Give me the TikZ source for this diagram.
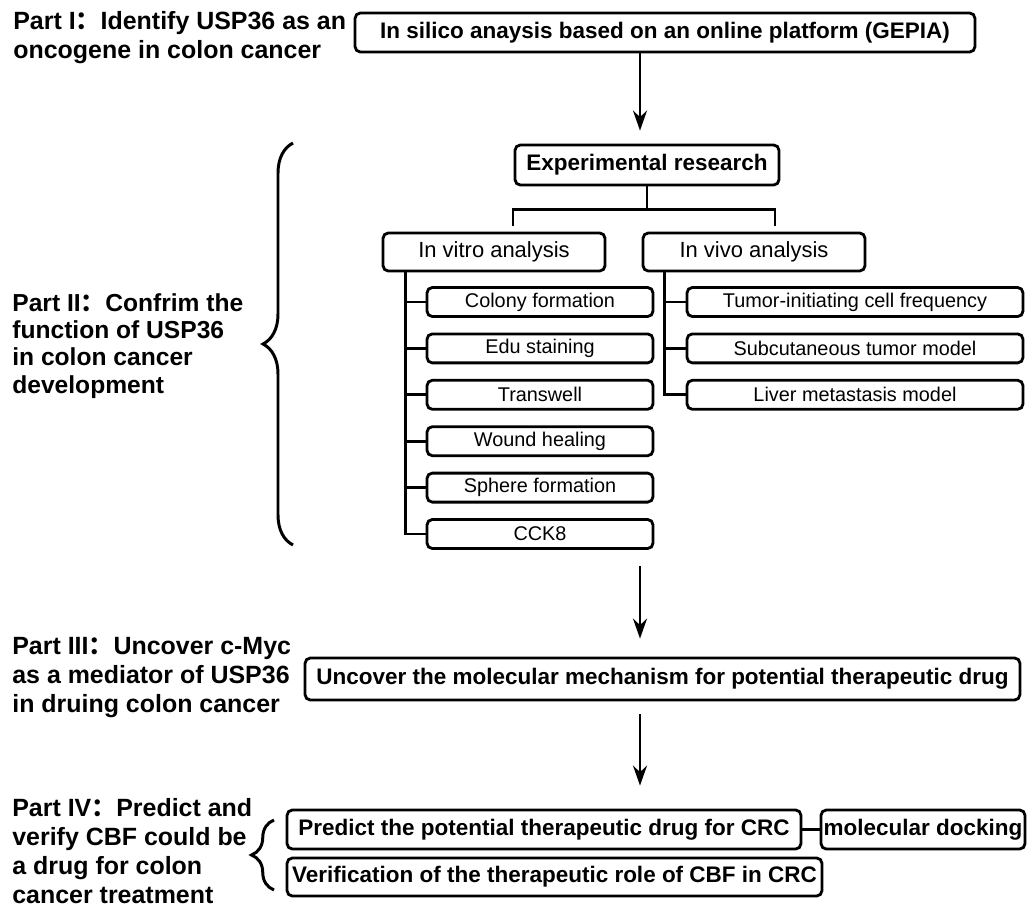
\documentclass[tikz,border=0pt]{standalone}
\usepackage{fontspec}
\setmainfont{Liberation Sans}
\newfontfamily\cjkfont{Noto Sans CJK SC}
\usetikzlibrary{arrows.meta,calc,decorations.pathreplacing}
\newcommand{\fwcolon}{{\cjkfont ：}}

\begin{document}
\begin{tikzpicture}[x=0.02cm, y=-0.02cm,
    box/.style={draw, line width=1.6pt, rounded corners=3pt, inner sep=0pt, minimum height=0.78cm, font=\bfseries\fontsize{12.8}{15}\selectfont},
    plainbox/.style={box, font=\fontsize{12.5}{15}\selectfont},
    subbox/.style={box, minimum height=0.58cm, font=\fontsize{11.3}{13}\selectfont},
    part/.style={anchor=base west, align=left, inner sep=0pt, font=\bfseries\fontsize{14.2}{16.4}\selectfont},
    conn/.style={line width=1.6pt},
    arr/.style={line width=1.5pt, -{Stealth[length=0.4cm, width=0.28cm]}},
    curly/.style={line width=1.7pt, decorate, decoration={brace, amplitude=#1}}
]
  \useasboundingbox (0,0) rectangle (1028,913);
  \coordinate (axis) at (640,0);

  % part I
  \node[part] (p1) at (13,58) {Part I\fwcolon Identify USP36 as an\\oncogene in colon cancer};
  \node[box, minimum width=12.4cm] (silico) at (665,32.5) {In silico anaysis based on an online platform (GEPIA)};

  % part II
  \node[part, font=\bfseries\fontsize{14}{15.4}\selectfont] (p2) at (12,393) {Part II\fwcolon Confrim the\\function of USP36\\in colon cancer\\development};
  \node[box, minimum width=5.28cm, minimum height=0.8cm] (exp) at (647,165) {Experimental research};
  \node[plainbox, minimum width=4.44cm, minimum height=0.76cm] (vitro) at (494,252) {In vitro analysis};
  \node[plainbox, minimum width=4.44cm, minimum height=0.76cm] (vivo) at (754,252) {In vivo analysis};

  \node[subbox, minimum width=4.52cm] (colony) at (540,302) {Colony formation};
  \node[subbox, minimum width=4.52cm] (edu) at (540,348.4) {Edu staining};
  \node[subbox, minimum width=4.52cm] (transwell) at (540,394.8) {Transwell};
  \node[subbox, minimum width=4.52cm] (wound) at (540,441.2) {Wound healing};
  \node[subbox, minimum width=4.52cm] (sphere) at (540,487.6) {Sphere formation};
  \node[subbox, minimum width=4.52cm] (cck) at (540,534) {CCK8};

  \node[subbox, minimum width=6.72cm] (tumor) at (855,302) {Tumor-initiating cell frequency};
  \node[subbox, minimum width=6.72cm] (subcut) at (855,348.4) {Subcutaneous tumor model};
  \node[subbox, minimum width=6.72cm] (liver) at (855,394.8) {Liver metastasis model};

  \draw[curly=0.6cm] (293,545) -- (293,143);

  % part III
  \node[part] (p3) at (12,712) {Part III\fwcolon Uncover c-Myc\\as a mediator of USP36\\in druing colon cancer};
  \node[box, minimum width=14.3cm, minimum height=0.84cm] (mech) at (662.5,679) {Uncover the molecular mechanism for potential therapeutic drug};

  % part IV
  \node[part] (p4) at (12,903) {Part IV\fwcolon Predict and\\verify CBF could be\\a drug for colon\\cancer treatment};
  \node[box, minimum width=10.28cm] (predict) at (544,829.5) {Predict the potential therapeutic drug for CRC};
  \node[box, minimum width=4.08cm] (dock) at (923,829.5) {molecular docking};
  \node[box, minimum width=10.7cm, minimum height=0.76cm] (verify) at (554.5,877) {Verification of the therapeutic role of CBF in CRC};

  \draw[curly=0.45cm] (274,890) -- (274,820);

  % connectors
  \draw[arr] (silico.south -| axis) -- ($(exp.north -| axis)+(0,-13)$);
  \draw[conn] (exp.south) -- ++(0,23) coordinate (fork);
  \draw[conn] ($(vitro.north)+(19,-6)$) |- (fork) -| ($(vivo.north)+(21,-6)$);
  \foreach \n in {colony,edu,transwell,wound,sphere,cck}
    \draw[conn] ($(vitro.south west)+(24,0)$) |- (\n.west);
  \foreach \n in {tumor,subcut,liver}
    \draw[conn] ($(vivo.south west)+(23,0)$) |- (\n.west);
  \draw[arr] ($(cck.south -| axis)+(0,16)$) -- ($(mech.north -| axis)+(0,-18)$);
  \draw[arr] ($(mech.south -| axis)+(0,13)$) -- ($(predict.north -| axis)+(0,-23)$);
  \draw[conn] (predict.east) -- (dock.west);
\end{tikzpicture}
\end{document}
